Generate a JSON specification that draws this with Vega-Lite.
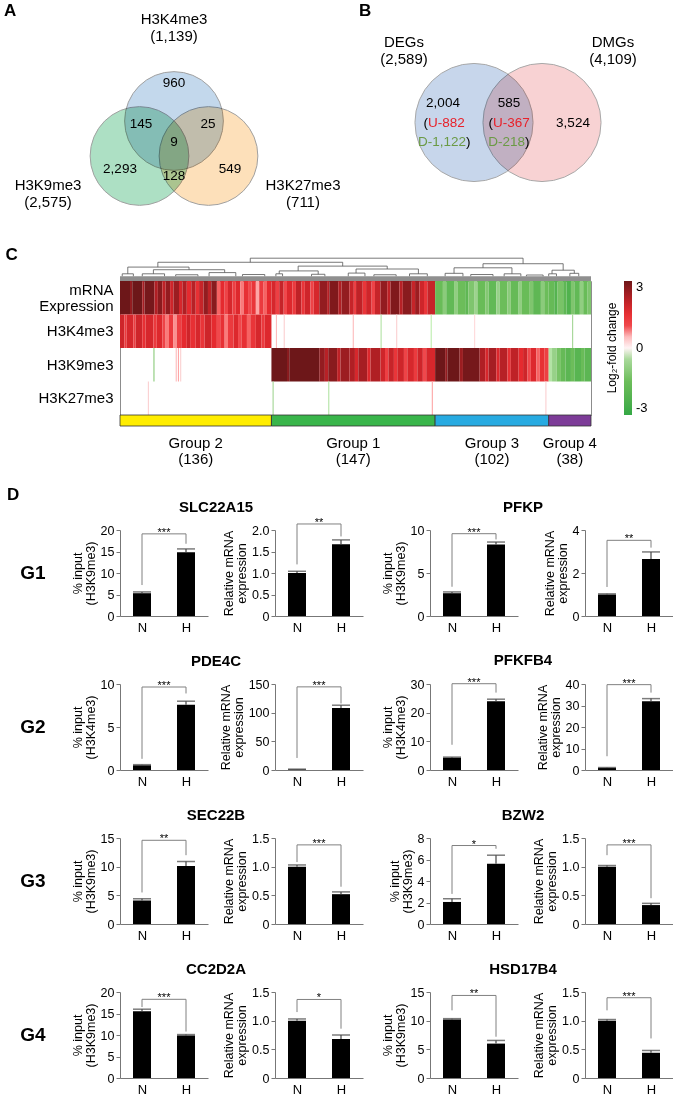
{
"$schema": "https://vega.github.io/schema/vega-lite/v6.json",
"padding": 0,
"background": "white",
"config": {
 "font": "Liberation Sans",
 "view": {"stroke": null},
 "axis": {"grid": false, "domainColor": "#777777", "tickColor": "#777777", "labelColor": "#000000", "titleColor": "#000000", "labelFontSize": 12.5, "titleFontSize": 12.5, "titleFontWeight": "normal", "tickSize": 4, "labelPadding": 2, "titlePadding": 3, "labelOverlap": false},
 "axisQuantitative": {"tickCount": 5},
 "title": {"color": "#000000"}
},
"datasets": {
 "heat": [
  {"t":"m","s":0,"e":9,"v":3.0},{"t":"m","s":9,"e":11,"v":2.6},{"t":"m","s":11,"e":20,"v":3.0},{"t":"m","s":20,"e":22,"v":2.4},{"t":"m","s":22,"e":31,"v":2.9},{"t":"m","s":31,"e":34,"v":2.3},{"t":"m","s":34,"e":38,"v":2.7},{"t":"m","s":38,"e":41,"v":2.1},{"t":"m","s":41,"e":45,"v":2.6},{"t":"m","s":45,"e":48,"v":1.9},{"t":"m","s":48,"e":53,"v":2.5},{"t":"m","s":53,"e":56,"v":1.8},{"t":"m","s":56,"e":60,"v":2.3},{"t":"m","s":60,"e":64,"v":1.6},{"t":"m","s":64,"e":68,"v":2.2},{"t":"m","s":68,"e":71,"v":1.5},{"t":"m","s":71,"e":75,"v":2.0},{"t":"m","s":75,"e":79,"v":2.6},{"t":"m","s":79,"e":82,"v":2.1},{"t":"m","s":82,"e":87,"v":2.7},{"t":"m","s":87,"e":90,"v":0.9},{"t":"m","s":90,"e":94,"v":1.6},{"t":"m","s":94,"e":97,"v":1.1},{"t":"m","s":97,"e":101,"v":1.8},{"t":"m","s":101,"e":104,"v":1.2},{"t":"m","s":104,"e":108,"v":1.7},{"t":"m","s":108,"e":111,"v":0.8},{"t":"m","s":111,"e":115,"v":1.5},{"t":"m","s":115,"e":118,"v":1.0},{"t":"m","s":118,"e":122,"v":1.4},{"t":"m","s":122,"e":125,"v":0.6},{"t":"m","s":125,"e":129,"v":1.3},{"t":"m","s":129,"e":132,"v":0.9},{"t":"m","s":132,"e":136,"v":1.6},
  {"t":"m","s":136,"e":140,"v":1.8},{"t":"m","s":140,"e":143,"v":1.2},{"t":"m","s":143,"e":147,"v":2.0},{"t":"m","s":147,"e":150,"v":1.0},{"t":"m","s":150,"e":155,"v":1.7},{"t":"m","s":155,"e":158,"v":1.3},{"t":"m","s":158,"e":163,"v":2.1},{"t":"m","s":163,"e":166,"v":1.4},{"t":"m","s":166,"e":171,"v":1.9},{"t":"m","s":171,"e":174,"v":1.1},{"t":"m","s":174,"e":179,"v":1.8},{"t":"m","s":179,"e":186,"v":2.6},{"t":"m","s":186,"e":188,"v":2.2},{"t":"m","s":188,"e":196,"v":2.8},{"t":"m","s":196,"e":199,"v":2.3},{"t":"m","s":199,"e":206,"v":2.6},{"t":"m","s":206,"e":210,"v":2.0},{"t":"m","s":210,"e":212,"v":1.2},{"t":"m","s":212,"e":218,"v":2.1},{"t":"m","s":218,"e":221,"v":1.4},{"t":"m","s":221,"e":226,"v":1.9},{"t":"m","s":226,"e":229,"v":1.1},{"t":"m","s":229,"e":234,"v":2.0},{"t":"m","s":234,"e":240,"v":2.6},{"t":"m","s":240,"e":243,"v":2.1},{"t":"m","s":243,"e":251,"v":2.8},{"t":"m","s":251,"e":254,"v":2.2},{"t":"m","s":254,"e":262,"v":2.7},{"t":"m","s":262,"e":265,"v":2.0},{"t":"m","s":265,"e":269,"v":2.5},{"t":"m","s":269,"e":273,"v":1.9},{"t":"m","s":273,"e":276,"v":1.4},{"t":"m","s":276,"e":283,"v":2.0},
  {"t":"m","s":283,"e":290,"v":-1.6},{"t":"m","s":290,"e":293,"v":-1.0},{"t":"m","s":293,"e":300,"v":-1.8},{"t":"m","s":300,"e":303,"v":-0.9},{"t":"m","s":303,"e":310,"v":-1.5},{"t":"m","s":310,"e":313,"v":-1.9},{"t":"m","s":313,"e":318,"v":-1.2},{"t":"m","s":318,"e":321,"v":-0.7},{"t":"m","s":321,"e":328,"v":-1.6},{"t":"m","s":328,"e":331,"v":-1.1},{"t":"m","s":331,"e":338,"v":-1.8},{"t":"m","s":338,"e":341,"v":-0.8},{"t":"m","s":341,"e":348,"v":-1.5},{"t":"m","s":348,"e":351,"v":-1.0},{"t":"m","s":351,"e":358,"v":-1.7},{"t":"m","s":358,"e":361,"v":-0.9},{"t":"m","s":361,"e":368,"v":-1.6},{"t":"m","s":368,"e":371,"v":-1.2},{"t":"m","s":371,"e":378,"v":-1.9},{"t":"m","s":378,"e":381,"v":-1.0},{"t":"m","s":381,"e":385,"v":-1.5},
  {"t":"m","s":385,"e":390,"v":-1.7},{"t":"m","s":390,"e":393,"v":-2.2},{"t":"m","s":393,"e":398,"v":-1.3},{"t":"m","s":398,"e":401,"v":-1.9},{"t":"m","s":401,"e":405,"v":-2.3},{"t":"m","s":405,"e":408,"v":-1.2},{"t":"m","s":408,"e":413,"v":-1.8},{"t":"m","s":413,"e":416,"v":-0.9},{"t":"m","s":416,"e":420,"v":-1.6},{"t":"m","s":420,"e":423,"v":-1.2},
  {"t":"k4","s":0,"e":4,"v":1.9},{"t":"k4","s":4,"e":6,"v":1.3},{"t":"k4","s":6,"e":12,"v":1.8},{"t":"k4","s":12,"e":14,"v":1.2},{"t":"k4","s":14,"e":20,"v":1.9},{"t":"k4","s":20,"e":23,"v":1.5},{"t":"k4","s":23,"e":30,"v":1.8},{"t":"k4","s":30,"e":33,"v":1.3},{"t":"k4","s":33,"e":38,"v":1.7},{"t":"k4","s":38,"e":41,"v":1.1},{"t":"k4","s":41,"e":44,"v":0.8},{"t":"k4","s":44,"e":48,"v":1.3},{"t":"k4","s":48,"e":51,"v":0.7},{"t":"k4","s":51,"e":55,"v":1.2},{"t":"k4","s":55,"e":60,"v":1.6},{"t":"k4","s":60,"e":63,"v":1.9},{"t":"k4","s":63,"e":68,"v":1.5},{"t":"k4","s":68,"e":72,"v":1.8},{"t":"k4","s":72,"e":76,"v":1.4},{"t":"k4","s":76,"e":82,"v":1.9},{"t":"k4","s":82,"e":87,"v":1.6},{"t":"k4","s":87,"e":90,"v":1.0},{"t":"k4","s":90,"e":94,"v":1.5},{"t":"k4","s":94,"e":97,"v":0.8},{"t":"k4","s":97,"e":102,"v":1.3},{"t":"k4","s":102,"e":106,"v":1.7},{"t":"k4","s":106,"e":109,"v":1.0},{"t":"k4","s":109,"e":114,"v":1.5},{"t":"k4","s":114,"e":117,"v":0.9},{"t":"k4","s":117,"e":122,"v":1.4},{"t":"k4","s":122,"e":127,"v":1.8},{"t":"k4","s":127,"e":130,"v":1.3},{"t":"k4","s":130,"e":136,"v":1.7},
  {"t":"k4","s":140,"e":141,"v":0.5},{"t":"k4","s":147,"e":148,"v":0.4},{"t":"k4","s":209,"e":210,"v":0.5},{"t":"k4","s":234,"e":235,"v":-0.4},{"t":"k4","s":248,"e":249,"v":0.4},{"t":"k4","s":279,"e":280,"v":-0.3},{"t":"k4","s":318,"e":319,"v":0.3},{"t":"k4","s":406,"e":407,"v":-0.6},
  {"t":"k9","s":30,"e":31,"v":-1.0},{"t":"k9","s":50,"e":51,"v":0.5},{"t":"k9","s":52,"e":53,"v":0.6},{"t":"k9","s":54,"e":55,"v":0.4},
  {"t":"k9","s":136,"e":150,"v":3.0},{"t":"k9","s":150,"e":152,"v":2.7},{"t":"k9","s":152,"e":179,"v":3.0},{"t":"k9","s":179,"e":184,"v":2.6},{"t":"k9","s":184,"e":187,"v":2.2},{"t":"k9","s":187,"e":195,"v":2.7},{"t":"k9","s":195,"e":198,"v":2.1},{"t":"k9","s":198,"e":206,"v":2.5},{"t":"k9","s":206,"e":211,"v":2.3},{"t":"k9","s":211,"e":214,"v":1.8},{"t":"k9","s":214,"e":222,"v":2.4},{"t":"k9","s":222,"e":225,"v":1.7},{"t":"k9","s":225,"e":234,"v":2.3},{"t":"k9","s":234,"e":238,"v":1.9},{"t":"k9","s":238,"e":241,"v":1.2},{"t":"k9","s":241,"e":246,"v":2.0},{"t":"k9","s":246,"e":249,"v":1.4},{"t":"k9","s":249,"e":255,"v":1.9},{"t":"k9","s":255,"e":258,"v":1.1},{"t":"k9","s":258,"e":264,"v":1.8},{"t":"k9","s":264,"e":267,"v":1.3},{"t":"k9","s":267,"e":272,"v":1.9},{"t":"k9","s":272,"e":275,"v":1.0},{"t":"k9","s":275,"e":283,"v":1.8},
  {"t":"k9","s":283,"e":292,"v":3.0},{"t":"k9","s":292,"e":294,"v":2.6},{"t":"k9","s":294,"e":305,"v":3.0},{"t":"k9","s":305,"e":308,"v":2.5},{"t":"k9","s":308,"e":323,"v":2.9},{"t":"k9","s":323,"e":328,"v":2.3},{"t":"k9","s":328,"e":331,"v":1.8},{"t":"k9","s":331,"e":338,"v":2.4},{"t":"k9","s":338,"e":341,"v":1.7},{"t":"k9","s":341,"e":348,"v":2.2},{"t":"k9","s":348,"e":351,"v":1.5},{"t":"k9","s":351,"e":358,"v":2.1},{"t":"k9","s":358,"e":362,"v":1.6},{"t":"k9","s":362,"e":366,"v":1.9},{"t":"k9","s":366,"e":369,"v":1.0},{"t":"k9","s":369,"e":374,"v":1.7},{"t":"k9","s":374,"e":377,"v":0.9},{"t":"k9","s":377,"e":381,"v":1.5},{"t":"k9","s":381,"e":385,"v":1.2},
  {"t":"k9","s":385,"e":388,"v":-0.4},{"t":"k9","s":388,"e":392,"v":-0.8},{"t":"k9","s":392,"e":396,"v":-1.3},{"t":"k9","s":396,"e":400,"v":-1.7},{"t":"k9","s":400,"e":405,"v":-2.0},{"t":"k9","s":405,"e":408,"v":-1.5},{"t":"k9","s":408,"e":414,"v":-2.1},{"t":"k9","s":414,"e":417,"v":-1.6},{"t":"k9","s":417,"e":423,"v":-2.0},
  {"t":"k27","s":25,"e":26,"v":0.4},{"t":"k27","s":137,"e":138,"v":-0.6},{"t":"k27","s":187,"e":188,"v":-0.4},{"t":"k27","s":280,"e":281,"v":0.6},{"t":"k27","s":382,"e":383,"v":0.4}
 ],
 "dend": [
  {"x":117,"x2":362,"y":0.95,"y2":0.95},{"x":34,"x2":200,"y":0.78,"y2":0.78},{"x":7,"x2":62,"y":0.58,"y2":0.58},{"x":30,"x2":94,"y":0.47,"y2":0.47},{"x":160,"x2":240,"y":0.62,"y2":0.62},{"x":143,"x2":178,"y":0.42,"y2":0.42},{"x":212,"x2":268,"y":0.5,"y2":0.5},{"x":326,"x2":398,"y":0.72,"y2":0.72},{"x":300,"x2":352,"y":0.55,"y2":0.55},{"x":388,"x2":408,"y":0.45,"y2":0.45},
  {"x":2,"x2":12,"y":0.3,"y2":0.3},{"x":20,"x2":40,"y":0.3,"y2":0.3},{"x":80,"x2":104,"y":0.35,"y2":0.35},{"x":140,"x2":146,"y":0.3,"y2":0.3},{"x":172,"x2":184,"y":0.28,"y2":0.28},{"x":205,"x2":220,"y":0.33,"y2":0.33},{"x":260,"x2":276,"y":0.3,"y2":0.3},{"x":292,"x2":308,"y":0.32,"y2":0.32},{"x":345,"x2":360,"y":0.3,"y2":0.3},{"x":385,"x2":392,"y":0.3,"y2":0.3},{"x":404,"x2":412,"y":0.32,"y2":0.32},{"x":50,"x2":70,"y":0.26,"y2":0.26},{"x":110,"x2":130,"y":0.27,"y2":0.27},{"x":228,"x2":248,"y":0.26,"y2":0.26},{"x":315,"x2":335,"y":0.27,"y2":0.27},{"x":365,"x2":380,"y":0.25,"y2":0.25},
  {"x":117,"x2":117,"y":0.78,"y2":0.95},{"x":362,"x2":362,"y":0.72,"y2":0.95},{"x":34,"x2":34,"y":0.58,"y2":0.78},{"x":200,"x2":200,"y":0.62,"y2":0.78},{"x":7,"x2":7,"y":0.3,"y2":0.58},{"x":62,"x2":62,"y":0.47,"y2":0.58},{"x":30,"x2":30,"y":0.3,"y2":0.47},{"x":94,"x2":94,"y":0.35,"y2":0.47},{"x":160,"x2":160,"y":0.42,"y2":0.62},{"x":240,"x2":240,"y":0.5,"y2":0.62},{"x":143,"x2":143,"y":0.3,"y2":0.42},{"x":178,"x2":178,"y":0.28,"y2":0.42},{"x":212,"x2":212,"y":0.33,"y2":0.5},{"x":268,"x2":268,"y":0.3,"y2":0.5},{"x":326,"x2":326,"y":0.55,"y2":0.72},{"x":398,"x2":398,"y":0.45,"y2":0.72},{"x":300,"x2":300,"y":0.32,"y2":0.55},{"x":352,"x2":352,"y":0.3,"y2":0.55},{"x":388,"x2":388,"y":0.3,"y2":0.45},{"x":408,"x2":408,"y":0.32,"y2":0.45},
  {"x":2,"x2":2,"y":0.2,"y2":0.3},{"x":12,"x2":12,"y":0.2,"y2":0.3},{"x":20,"x2":20,"y":0.2,"y2":0.3},{"x":40,"x2":40,"y":0.2,"y2":0.3},{"x":80,"x2":80,"y":0.2,"y2":0.35},{"x":104,"x2":104,"y":0.2,"y2":0.35},{"x":140,"x2":140,"y":0.2,"y2":0.3},{"x":146,"x2":146,"y":0.2,"y2":0.3},{"x":172,"x2":172,"y":0.2,"y2":0.28},{"x":184,"x2":184,"y":0.2,"y2":0.28},{"x":205,"x2":205,"y":0.2,"y2":0.33},{"x":220,"x2":220,"y":0.2,"y2":0.33},{"x":260,"x2":260,"y":0.2,"y2":0.3},{"x":276,"x2":276,"y":0.2,"y2":0.3},{"x":292,"x2":292,"y":0.2,"y2":0.32},{"x":308,"x2":308,"y":0.2,"y2":0.32},{"x":345,"x2":345,"y":0.2,"y2":0.3},{"x":360,"x2":360,"y":0.2,"y2":0.3},{"x":385,"x2":385,"y":0.2,"y2":0.3},{"x":392,"x2":392,"y":0.2,"y2":0.3},{"x":404,"x2":404,"y":0.2,"y2":0.32},{"x":412,"x2":412,"y":0.2,"y2":0.32},{"x":50,"x2":50,"y":0.2,"y2":0.26},{"x":70,"x2":70,"y":0.2,"y2":0.26},{"x":110,"x2":110,"y":0.2,"y2":0.27},{"x":130,"x2":130,"y":0.2,"y2":0.27},{"x":228,"x2":228,"y":0.2,"y2":0.26},{"x":248,"x2":248,"y":0.2,"y2":0.26},{"x":315,"x2":315,"y":0.2,"y2":0.27},{"x":335,"x2":335,"y":0.2,"y2":0.27},{"x":365,"x2":365,"y":0.2,"y2":0.25},{"x":380,"x2":380,"y":0.2,"y2":0.25}
 ],
 "groups": [
  {"g":"Group 2","s":0,"e":136,"mid":68,"lab":"Group 2\n(136)"},
  {"g":"Group 1","s":136,"e":283,"mid":209.5,"lab":"Group 1\n(147)"},
  {"g":"Group 3","s":283,"e":385,"mid":334,"lab":"Group 3\n(102)"},
  {"g":"Group 4","s":385,"e":423,"mid":404,"lab":"Group 4\n(38)"}
 ],
 "bars": [
  {"p":"slc_c","i":0,"v":5.3,"hi":5.6,"lo":7.2,"top":19.1,"s":"***"},{"p":"slc_c","i":1,"v":14.8,"hi":15.6,"lo":16.8,"top":19.1,"s":"***"},
  {"p":"slc_m","i":0,"v":1.0,"hi":1.04,"lo":1.2,"top":2.14,"s":"**"},{"p":"slc_m","i":1,"v":1.67,"hi":1.77,"lo":1.85,"top":2.14,"s":"**"},
  {"p":"pfkp_c","i":0,"v":2.65,"hi":2.8,"lo":3.4,"top":9.57,"s":"***"},{"p":"pfkp_c","i":1,"v":8.3,"hi":8.6,"lo":8.9,"top":9.57,"s":"***"},
  {"p":"pfkp_m","i":0,"v":1.0,"hi":1.03,"lo":1.35,"top":3.52,"s":"**"},{"p":"pfkp_m","i":1,"v":2.65,"hi":2.98,"lo":3.18,"top":3.52,"s":"**"},
  {"p":"pde_c","i":0,"v":0.55,"hi":0.62,"lo":1.3,"top":9.65,"s":"***"},{"p":"pde_c","i":1,"v":7.6,"hi":8.0,"lo":8.9,"top":9.65,"s":"***"},
  {"p":"pde_m","i":0,"v":1.0,"hi":1.5,"lo":21,"top":145,"s":"***"},{"p":"pde_m","i":1,"v":108,"hi":113,"lo":116,"top":145,"s":"***"},
  {"p":"pfkfb_c","i":0,"v":4.3,"hi":4.5,"lo":8.8,"top":30.1,"s":"***"},{"p":"pfkfb_c","i":1,"v":24,"hi":24.7,"lo":27,"top":30.1,"s":"***"},
  {"p":"pfkfb_m","i":0,"v":1.0,"hi":1.15,"lo":6.4,"top":39.7,"s":"***"},{"p":"pfkfb_m","i":1,"v":32,"hi":33.2,"lo":36,"top":39.7,"s":"***"},
  {"p":"sec_c","i":0,"v":4.1,"hi":4.4,"lo":5.5,"top":14.6,"s":"**"},{"p":"sec_c","i":1,"v":10.1,"hi":10.9,"lo":12,"top":14.6,"s":"**"},
  {"p":"sec_m","i":0,"v":1.0,"hi":1.03,"lo":1.08,"top":1.38,"s":"***"},{"p":"sec_m","i":1,"v":0.52,"hi":0.56,"lo":0.65,"top":1.38,"s":"***"},
  {"p":"bzw_c","i":0,"v":2.05,"hi":2.35,"lo":2.8,"top":7.3,"s":"*"},{"p":"bzw_c","i":1,"v":5.6,"hi":6.4,"lo":7.0,"top":7.3,"s":"*"},
  {"p":"bzw_m","i":0,"v":1.0,"hi":1.02,"lo":1.2,"top":1.38,"s":"***"},{"p":"bzw_m","i":1,"v":0.33,"hi":0.36,"lo":0.45,"top":1.38,"s":"***"},
  {"p":"cc_c","i":0,"v":15.5,"hi":16.0,"lo":16.5,"top":18.3,"s":"***"},{"p":"cc_c","i":1,"v":9.9,"hi":10.1,"lo":10.8,"top":18.3,"s":"***"},
  {"p":"cc_m","i":0,"v":1.0,"hi":1.03,"lo":1.15,"top":1.37,"s":"*"},{"p":"cc_m","i":1,"v":0.68,"hi":0.75,"lo":0.86,"top":1.37,"s":"*"},
  {"p":"hsd_c","i":0,"v":10.2,"hi":10.35,"lo":11.8,"top":14.4,"s":"**"},{"p":"hsd_c","i":1,"v":6.0,"hi":6.55,"lo":7.2,"top":14.4,"s":"**"},
  {"p":"hsd_m","i":0,"v":1.0,"hi":1.02,"lo":1.18,"top":1.4,"s":"***"},{"p":"hsd_m","i":1,"v":0.44,"hi":0.48,"lo":0.69,"top":1.4,"s":"***"}
 ]
},
"concat": [
 {
  "hconcat": [
   {
    "width": 222, "height": 228,
    "data": {"values": [
     {"x":3,"y":11,"t":"A","r":"letter"},
     {"x":173,"y":19,"t":"H3K4me3","r":"title"},{"x":173,"y":36,"t":"(1,139)","r":"title"},
     {"x":47,"y":185,"t":"H3K9me3","r":"title"},{"x":47,"y":202,"t":"(2,575)","r":"title"},
     {"x":302,"y":185,"t":"H3K27me3","r":"title"},{"x":302,"y":202,"t":"(711)","r":"title"},
     {"x":173,"y":83,"t":"960","r":"num"},{"x":140,"y":124,"t":"145","r":"num"},{"x":207,"y":124,"t":"25","r":"num"},{"x":173,"y":142,"t":"9","r":"num"},{"x":119,"y":169,"t":"2,293","r":"num"},{"x":173,"y":176,"t":"128","r":"num"},{"x":229,"y":169,"t":"549","r":"num"}
    ]},
    "layer": [
     {"data": {"values": [{"k":"k4","x":173,"y":121},{"k":"k9","x":138.5,"y":156},{"k":"k27","x":207.5,"y":156}]},
      "mark": {"type": "point", "shape": "circle", "filled": true, "size": 9750, "opacity": 1, "stroke": "#a0a0a0", "strokeWidth": 1, "blend": "multiply"},
      "encoding": {
       "x": {"field": "x", "type": "quantitative", "scale": {"domain": [119, 341], "nice": false, "zero": false}, "axis": null},
       "y": {"field": "y", "type": "quantitative", "scale": {"domain": [0, 228], "reverse": true, "nice": false, "zero": false}, "axis": null},
       "fill": {"condition": [{"test": "datum.k == 'k4'", "value": "#c3d8ec"}, {"test": "datum.k == 'k9'", "value": "#ade0c4"}], "value": "#fde0ba"}
      }},
     {"transform": [{"filter": "datum.r == 'letter'"}], "mark": {"type": "text", "align": "left", "baseline": "middle", "fontSize": 17, "fontWeight": "bold"},
      "encoding": {"x": {"field": "x", "type": "quantitative"}, "y": {"field": "y", "type": "quantitative"}, "text": {"field": "t"}}},
     {"transform": [{"filter": "datum.r == 'title'"}], "mark": {"type": "text", "align": "center", "baseline": "middle", "fontSize": 15},
      "encoding": {"x": {"field": "x", "type": "quantitative"}, "y": {"field": "y", "type": "quantitative"}, "text": {"field": "t"}}},
     {"transform": [{"filter": "datum.r == 'num'"}], "mark": {"type": "text", "align": "center", "baseline": "middle", "fontSize": 13.5},
      "encoding": {"x": {"field": "x", "type": "quantitative"}, "y": {"field": "y", "type": "quantitative"}, "text": {"field": "t"}}}
    ]
   },
   {
    "width": 332, "height": 228,
    "data": {"values": [
     {"x":17,"y":11,"t":"B","r":"letter"},
     {"x":62,"y":42,"t":"DEGs","r":"title"},{"x":62,"y":59,"t":"(2,589)","r":"title"},
     {"x":271,"y":42,"t":"DMGs","r":"title"},{"x":271,"y":59,"t":"(4,109)","r":"title"},
     {"x":101,"y":103,"t":"2,004","r":"num"},{"x":167,"y":103,"t":"585","r":"num"},{"x":231,"y":123,"t":"3,524","r":"num"},
     {"x":86,"y":123,"t":"(","r":"openR"},{"x":151,"y":123,"t":"(","r":"openR"},
     {"x":86,"y":123,"t":"U-882","r":"red"},{"x":151,"y":123,"t":"U-367","r":"red"},
     {"x":124,"y":142,"t":"D-1,122","r":"green"},{"x":183,"y":142,"t":"D-218","r":"green"},
     {"x":124,"y":142,"t":")","r":"closeL"},{"x":183,"y":142,"t":")","r":"closeL"}
    ]},
    "layer": [
     {"data": {"values": [{"k":"deg","x":132,"y":122.5},{"k":"dmg","x":200,"y":122.5}]},
      "mark": {"type": "point", "shape": "circle", "filled": true, "size": 13950, "opacity": 1, "stroke": "#a8a8a8", "strokeWidth": 1, "blend": "multiply"},
      "encoding": {
       "x": {"field": "x", "type": "quantitative", "scale": {"domain": [0, 332], "nice": false, "zero": false}, "axis": null},
       "y": {"field": "y", "type": "quantitative", "scale": {"domain": [0, 228], "reverse": true, "nice": false, "zero": false}, "axis": null},
       "fill": {"condition": [{"test": "datum.k == 'deg'", "value": "#c7d6eb"}], "value": "#f8d2d3"}
      }},
     {"transform": [{"filter": "datum.r == 'letter'"}], "mark": {"type": "text", "align": "left", "baseline": "middle", "fontSize": 17, "fontWeight": "bold"},
      "encoding": {"x": {"field": "x", "type": "quantitative"}, "y": {"field": "y", "type": "quantitative"}, "text": {"field": "t"}}},
     {"transform": [{"filter": "datum.r == 'title'"}], "mark": {"type": "text", "align": "center", "baseline": "middle", "fontSize": 15},
      "encoding": {"x": {"field": "x", "type": "quantitative"}, "y": {"field": "y", "type": "quantitative"}, "text": {"field": "t"}}},
     {"transform": [{"filter": "datum.r == 'num'"}], "mark": {"type": "text", "align": "center", "baseline": "middle", "fontSize": 13.5},
      "encoding": {"x": {"field": "x", "type": "quantitative"}, "y": {"field": "y", "type": "quantitative"}, "text": {"field": "t"}}},
     {"transform": [{"filter": "datum.r == 'openR'"}], "mark": {"type": "text", "align": "right", "baseline": "middle", "fontSize": 13.5},
      "encoding": {"x": {"field": "x", "type": "quantitative"}, "y": {"field": "y", "type": "quantitative"}, "text": {"field": "t"}}},
     {"transform": [{"filter": "datum.r == 'red'"}], "mark": {"type": "text", "align": "left", "baseline": "middle", "fontSize": 13.5, "color": "#e8212a"},
      "encoding": {"x": {"field": "x", "type": "quantitative"}, "y": {"field": "y", "type": "quantitative"}, "text": {"field": "t"}}},
     {"transform": [{"filter": "datum.r == 'green'"}], "mark": {"type": "text", "align": "right", "baseline": "middle", "fontSize": 13.5, "color": "#6b9a45"},
      "encoding": {"x": {"field": "x", "type": "quantitative"}, "y": {"field": "y", "type": "quantitative"}, "text": {"field": "t"}}},
     {"transform": [{"filter": "datum.r == 'closeL'"}], "mark": {"type": "text", "align": "left", "baseline": "middle", "fontSize": 13.5},
      "encoding": {"x": {"field": "x", "type": "quantitative"}, "y": {"field": "y", "type": "quantitative"}, "text": {"field": "t"}}}
    ]
   }
  ],
  "spacing": 0
 },
 {
  "vconcat": [
   {
    "width": 471, "height": 24,
    "data": {"name": "dend"},
    "layer": [
     {"data": {"values": [{"x":0,"x2":423,"y":0,"y2":0.2}]}, "mark": {"type": "rect", "color": "#8f8f8f"},
      "encoding": {"x": {"field": "x", "type": "quantitative", "scale": {"domain": [0, 423], "nice": false, "zero": false}, "axis": null}, "x2": {"field": "x2"}, "y": {"field": "y", "type": "quantitative", "scale": {"domain": [0, 1], "nice": false}, "axis": null}, "y2": {"field": "y2"}}},
     {"mark": {"type": "rule", "color": "#555555", "strokeWidth": 0.8},
      "encoding": {"x": {"field": "x", "type": "quantitative"}, "x2": {"field": "x2"}, "y": {"field": "y", "type": "quantitative"}, "y2": {"field": "y2"}}}
    ]
   },
   {
    "width": 471, "height": 134,
    "view": {"stroke": "#8c8c8c", "strokeWidth": 1},
    "data": {"name": "heat"},
    "mark": {"type": "rect"},
    "encoding": {
     "x": {"field": "s", "type": "quantitative", "scale": {"domain": [0, 423], "nice": false, "zero": false}, "axis": null},
     "x2": {"field": "e"},
     "y": {"field": "t", "type": "nominal", "scale": {"domain": ["m", "k4", "k9", "k27"], "paddingInner": 0, "paddingOuter": 0},
      "axis": {"title": null, "ticks": false, "domain": false, "labelPadding": 7, "labelFontSize": 15, "labelLineHeight": 16, "minExtent": 119, "maxExtent": 119,
       "labelOffset": {"condition": {"test": "datum.value == 'm'", "value": -8}, "value": 0},
       "labelExpr": "datum.value == 'm' ? ['mRNA', 'Expression'] : datum.value == 'k4' ? 'H3K4me3' : datum.value == 'k9' ? 'H3K9me3' : 'H3K27me3'"}},
     "color": {"field": "v", "type": "quantitative",
      "scale": {"domain": [-3, -1.5, -0.5, 0, 0.4, 1, 1.6, 2.3, 3], "range": ["#34a845", "#6cbd5a", "#a9d99b", "#ffffff", "#fbd0d1", "#f0484c", "#e52a2f", "#b01f24", "#6d1719"]},
      "legend": {"title": "Log₂-fold change", "orient": "right", "direction": "vertical", "offset": 15, "gradientLength": 134, "gradientThickness": 8, "values": [-3, 0, 3],
       "labelExpr": "datum.value < 0 ? '-3' : datum.value > 0 ? '3' : '0'", "labelFontSize": 13, "titleFontSize": 12, "titleFontWeight": "normal", "titleOrient": "left", "titleAngle": 270, "titleAnchor": "middle", "titlePadding": 4, "labelOffset": 4}}
    }
   },
   {
    "width": 471, "height": 11,
    "data": {"name": "groups"},
    "mark": {"type": "rect", "stroke": "#333333", "strokeWidth": 0.8},
    "encoding": {
     "x": {"field": "s", "type": "quantitative", "scale": {"domain": [0, 423], "nice": false, "zero": false}, "axis": null},
     "x2": {"field": "e"},
     "fill": {"condition": [{"test": "datum.g == 'Group 2'", "value": "#ffed00"}, {"test": "datum.g == 'Group 1'", "value": "#39b54a"}, {"test": "datum.g == 'Group 3'", "value": "#27aae1"}], "value": "#7d3c98"}
    }
   },
   {
    "width": 471, "height": 40,
    "data": {"name": "groups"},
    "mark": {"type": "text", "fontSize": 15, "lineBreak": "\n", "lineHeight": 16, "baseline": "middle", "dy": -3},
    "encoding": {
     "x": {"field": "mid", "type": "quantitative", "scale": {"domain": [0, 423], "nice": false, "zero": false}, "axis": null},
     "text": {"field": "lab"}
    }
   }
  ],
  "spacing": 0,
  "bounds": "flush",
  "title": {"text": "C", "anchor": "start", "frame": "bounds", "offset": -20, "fontSize": 17, "fontWeight": "bold", "baseline": "alphabetic", "dx": 5},
  "resolve": {"legend": {"color": "independent"}, "scale": {"color": "independent"}}
 },
 {
  "concat": [
   {"width": 88, "height": 86, "title": {"text": "SLC22A15", "anchor": "middle", "frame": "group", "offset": -3, "fontSize": 15, "fontWeight": "bold", "baseline": "alphabetic", "dx": 52},
    "data": {"name": "bars"}, "transform": [{"filter": "datum.p == 'slc_c'"}],
    "layer": [
     {"mark": {"type": "bar", "size": 18, "color": "#000000", "orient": "vertical"}, "encoding": {"x": {"field": "i", "type": "quantitative", "scale": {"domain": [-0.5, 1.5], "nice": false, "zero": false, "padding": 0}, "axis": {"values": [0, 1], "labelExpr": "datum.value == 0 ? 'N' : 'H'", "ticks": false, "title": null, "labelFontSize": 13, "labelPadding": 5}}, "y": {"field": "v", "type": "quantitative", "scale": {"domain": [0, 20], "nice": false, "padding": 0}, "axis": {"values": [0, 5, 10, 15, 20], "title": ["% input", "(H3K9me3)"], "titleLineHeight": 13}}}},
     {"mark": {"type": "rule", "color": "#444444", "strokeWidth": 1.2}, "encoding": {"x": {"field": "i", "type": "quantitative"}, "y": {"field": "v", "type": "quantitative"}, "y2": {"field": "hi"}}},
     {"mark": {"type": "tick", "orient": "horizontal", "size": 18, "thickness": 1.5, "color": "#444444"}, "encoding": {"x": {"field": "i", "type": "quantitative"}, "y": {"field": "hi", "type": "quantitative"}}},
     {"mark": {"type": "rule", "color": "#808080", "strokeWidth": 1}, "encoding": {"x": {"field": "i", "type": "quantitative"}, "y": {"field": "lo", "type": "quantitative"}, "y2": {"field": "top"}}},
     {"transform": [{"filter": "datum.i == 0"}], "mark": {"type": "rule", "color": "#808080", "strokeWidth": 1}, "encoding": {"x": {"datum": 0, "type": "quantitative"}, "x2": {"datum": 1}, "y": {"field": "top", "type": "quantitative"}}},
     {"transform": [{"filter": "datum.i == 0"}], "mark": {"type": "text", "fontSize": 11, "baseline": "alphabetic", "dy": 2}, "encoding": {"x": {"datum": 0.5, "type": "quantitative"}, "y": {"field": "top", "type": "quantitative"}, "text": {"field": "s"}}},
     {"transform": [{"filter": "datum.i == 0"}], "mark": {"type": "text", "fontSize": 19, "fontWeight": "bold", "baseline": "middle", "align": "center"}, "encoding": {"x": {"datum": -2.48, "type": "quantitative"}, "y": {"datum": 10, "type": "quantitative"}, "text": {"value": "G1"}}}
    ]},
   {"width": 88, "height": 86,
    "data": {"name": "bars"}, "transform": [{"filter": "datum.p == 'slc_m'"}],
    "layer": [
     {"mark": {"type": "bar", "size": 18, "color": "#000000", "orient": "vertical"}, "encoding": {"x": {"field": "i", "type": "quantitative", "scale": {"domain": [-0.5, 1.5], "nice": false, "zero": false, "padding": 0}, "axis": {"values": [0, 1], "labelExpr": "datum.value == 0 ? 'N' : 'H'", "ticks": false, "title": null, "labelFontSize": 13, "labelPadding": 5}}, "y": {"field": "v", "type": "quantitative", "scale": {"domain": [0, 2], "nice": false, "padding": 0}, "axis": {"values": [0, 0.5, 1, 1.5, 2], "labelExpr": "datum.value == 0 ? '0' : format(datum.value, '.1f')", "title": ["Relative mRNA", "expression"], "titleLineHeight": 13}}}},
     {"mark": {"type": "rule", "color": "#444444", "strokeWidth": 1.2}, "encoding": {"x": {"field": "i", "type": "quantitative"}, "y": {"field": "v", "type": "quantitative"}, "y2": {"field": "hi"}}},
     {"mark": {"type": "tick", "orient": "horizontal", "size": 18, "thickness": 1.5, "color": "#444444"}, "encoding": {"x": {"field": "i", "type": "quantitative"}, "y": {"field": "hi", "type": "quantitative"}}},
     {"mark": {"type": "rule", "color": "#808080", "strokeWidth": 1}, "encoding": {"x": {"field": "i", "type": "quantitative"}, "y": {"field": "lo", "type": "quantitative"}, "y2": {"field": "top"}}},
     {"transform": [{"filter": "datum.i == 0"}], "mark": {"type": "rule", "color": "#808080", "strokeWidth": 1}, "encoding": {"x": {"datum": 0, "type": "quantitative"}, "x2": {"datum": 1}, "y": {"field": "top", "type": "quantitative"}}},
     {"transform": [{"filter": "datum.i == 0"}], "mark": {"type": "text", "fontSize": 11, "baseline": "alphabetic", "dy": 2}, "encoding": {"x": {"datum": 0.5, "type": "quantitative"}, "y": {"field": "top", "type": "quantitative"}, "text": {"field": "s"}}},
     {"transform": [{"filter": "datum.i == 0"}], "mark": {"type": "text", "fontSize": 17, "fontWeight": "bold", "baseline": "alphabetic", "align": "left"}, "encoding": {"x": {"datum": -6.59, "type": "quantitative"}, "y": {"datum": 2.7, "type": "quantitative"}, "text": {"value": "D"}}}
    ]},
   {"width": 88, "height": 86, "title": {"text": "PFKP", "anchor": "middle", "frame": "group", "offset": -3, "fontSize": 15, "fontWeight": "bold", "baseline": "alphabetic", "dx": 49},
    "data": {"name": "bars"}, "transform": [{"filter": "datum.p == 'pfkp_c'"}],
    "layer": [
     {"mark": {"type": "bar", "size": 18, "color": "#000000", "orient": "vertical"}, "encoding": {"x": {"field": "i", "type": "quantitative", "scale": {"domain": [-0.5, 1.5], "nice": false, "zero": false, "padding": 0}, "axis": {"values": [0, 1], "labelExpr": "datum.value == 0 ? 'N' : 'H'", "ticks": false, "title": null, "labelFontSize": 13, "labelPadding": 5}}, "y": {"field": "v", "type": "quantitative", "scale": {"domain": [0, 10], "nice": false, "padding": 0}, "axis": {"values": [0, 5, 10], "title": ["% input", "(H3K9me3)"], "titleLineHeight": 13}}}},
     {"mark": {"type": "rule", "color": "#444444", "strokeWidth": 1.2}, "encoding": {"x": {"field": "i", "type": "quantitative"}, "y": {"field": "v", "type": "quantitative"}, "y2": {"field": "hi"}}},
     {"mark": {"type": "tick", "orient": "horizontal", "size": 18, "thickness": 1.5, "color": "#444444"}, "encoding": {"x": {"field": "i", "type": "quantitative"}, "y": {"field": "hi", "type": "quantitative"}}},
     {"mark": {"type": "rule", "color": "#808080", "strokeWidth": 1}, "encoding": {"x": {"field": "i", "type": "quantitative"}, "y": {"field": "lo", "type": "quantitative"}, "y2": {"field": "top"}}},
     {"transform": [{"filter": "datum.i == 0"}], "mark": {"type": "rule", "color": "#808080", "strokeWidth": 1}, "encoding": {"x": {"datum": 0, "type": "quantitative"}, "x2": {"datum": 1}, "y": {"field": "top", "type": "quantitative"}}},
     {"transform": [{"filter": "datum.i == 0"}], "mark": {"type": "text", "fontSize": 11, "baseline": "alphabetic", "dy": 2}, "encoding": {"x": {"datum": 0.5, "type": "quantitative"}, "y": {"field": "top", "type": "quantitative"}, "text": {"field": "s"}}}
    ]},
   {"width": 88, "height": 86,
    "data": {"name": "bars"}, "transform": [{"filter": "datum.p == 'pfkp_m'"}],
    "layer": [
     {"mark": {"type": "bar", "size": 18, "color": "#000000", "orient": "vertical"}, "encoding": {"x": {"field": "i", "type": "quantitative", "scale": {"domain": [-0.5, 1.5], "nice": false, "zero": false, "padding": 0}, "axis": {"values": [0, 1], "labelExpr": "datum.value == 0 ? 'N' : 'H'", "ticks": false, "title": null, "labelFontSize": 13, "labelPadding": 5}}, "y": {"field": "v", "type": "quantitative", "scale": {"domain": [0, 4], "nice": false, "padding": 0}, "axis": {"values": [0, 2, 4], "title": ["Relative mRNA", "expression"], "titleLineHeight": 13}}}},
     {"mark": {"type": "rule", "color": "#444444", "strokeWidth": 1.2}, "encoding": {"x": {"field": "i", "type": "quantitative"}, "y": {"field": "v", "type": "quantitative"}, "y2": {"field": "hi"}}},
     {"mark": {"type": "tick", "orient": "horizontal", "size": 18, "thickness": 1.5, "color": "#444444"}, "encoding": {"x": {"field": "i", "type": "quantitative"}, "y": {"field": "hi", "type": "quantitative"}}},
     {"mark": {"type": "rule", "color": "#808080", "strokeWidth": 1}, "encoding": {"x": {"field": "i", "type": "quantitative"}, "y": {"field": "lo", "type": "quantitative"}, "y2": {"field": "top"}}},
     {"transform": [{"filter": "datum.i == 0"}], "mark": {"type": "rule", "color": "#808080", "strokeWidth": 1}, "encoding": {"x": {"datum": 0, "type": "quantitative"}, "x2": {"datum": 1}, "y": {"field": "top", "type": "quantitative"}}},
     {"transform": [{"filter": "datum.i == 0"}], "mark": {"type": "text", "fontSize": 11, "baseline": "alphabetic", "dy": 2}, "encoding": {"x": {"datum": 0.5, "type": "quantitative"}, "y": {"field": "top", "type": "quantitative"}, "text": {"field": "s"}}}
    ]},
   {"width": 88, "height": 86, "title": {"text": "PDE4C", "anchor": "middle", "frame": "group", "offset": -3, "fontSize": 15, "fontWeight": "bold", "baseline": "alphabetic", "dx": 52},
    "data": {"name": "bars"}, "transform": [{"filter": "datum.p == 'pde_c'"}],
    "layer": [
     {"mark": {"type": "bar", "size": 18, "color": "#000000", "orient": "vertical"}, "encoding": {"x": {"field": "i", "type": "quantitative", "scale": {"domain": [-0.5, 1.5], "nice": false, "zero": false, "padding": 0}, "axis": {"values": [0, 1], "labelExpr": "datum.value == 0 ? 'N' : 'H'", "ticks": false, "title": null, "labelFontSize": 13, "labelPadding": 5}}, "y": {"field": "v", "type": "quantitative", "scale": {"domain": [0, 10], "nice": false, "padding": 0}, "axis": {"values": [0, 5, 10], "title": ["% input", "(H3K4me3)"], "titleLineHeight": 13}}}},
     {"mark": {"type": "rule", "color": "#444444", "strokeWidth": 1.2}, "encoding": {"x": {"field": "i", "type": "quantitative"}, "y": {"field": "v", "type": "quantitative"}, "y2": {"field": "hi"}}},
     {"mark": {"type": "tick", "orient": "horizontal", "size": 18, "thickness": 1.5, "color": "#444444"}, "encoding": {"x": {"field": "i", "type": "quantitative"}, "y": {"field": "hi", "type": "quantitative"}}},
     {"mark": {"type": "rule", "color": "#808080", "strokeWidth": 1}, "encoding": {"x": {"field": "i", "type": "quantitative"}, "y": {"field": "lo", "type": "quantitative"}, "y2": {"field": "top"}}},
     {"transform": [{"filter": "datum.i == 0"}], "mark": {"type": "rule", "color": "#808080", "strokeWidth": 1}, "encoding": {"x": {"datum": 0, "type": "quantitative"}, "x2": {"datum": 1}, "y": {"field": "top", "type": "quantitative"}}},
     {"transform": [{"filter": "datum.i == 0"}], "mark": {"type": "text", "fontSize": 11, "baseline": "alphabetic", "dy": 2}, "encoding": {"x": {"datum": 0.5, "type": "quantitative"}, "y": {"field": "top", "type": "quantitative"}, "text": {"field": "s"}}},
     {"transform": [{"filter": "datum.i == 0"}], "mark": {"type": "text", "fontSize": 19, "fontWeight": "bold", "baseline": "middle", "align": "center"}, "encoding": {"x": {"datum": -2.48, "type": "quantitative"}, "y": {"datum": 5, "type": "quantitative"}, "text": {"value": "G2"}}}
    ]},
   {"width": 88, "height": 86,
    "data": {"name": "bars"}, "transform": [{"filter": "datum.p == 'pde_m'"}],
    "layer": [
     {"mark": {"type": "bar", "size": 18, "color": "#000000", "orient": "vertical"}, "encoding": {"x": {"field": "i", "type": "quantitative", "scale": {"domain": [-0.5, 1.5], "nice": false, "zero": false, "padding": 0}, "axis": {"values": [0, 1], "labelExpr": "datum.value == 0 ? 'N' : 'H'", "ticks": false, "title": null, "labelFontSize": 13, "labelPadding": 5}}, "y": {"field": "v", "type": "quantitative", "scale": {"domain": [0, 150], "nice": false, "padding": 0}, "axis": {"values": [0, 50, 100, 150], "title": ["Relative mRNA", "expression"], "titleLineHeight": 13}}}},
     {"mark": {"type": "rule", "color": "#444444", "strokeWidth": 1.2}, "encoding": {"x": {"field": "i", "type": "quantitative"}, "y": {"field": "v", "type": "quantitative"}, "y2": {"field": "hi"}}},
     {"mark": {"type": "tick", "orient": "horizontal", "size": 18, "thickness": 1.5, "color": "#444444"}, "encoding": {"x": {"field": "i", "type": "quantitative"}, "y": {"field": "hi", "type": "quantitative"}}},
     {"mark": {"type": "rule", "color": "#808080", "strokeWidth": 1}, "encoding": {"x": {"field": "i", "type": "quantitative"}, "y": {"field": "lo", "type": "quantitative"}, "y2": {"field": "top"}}},
     {"transform": [{"filter": "datum.i == 0"}], "mark": {"type": "rule", "color": "#808080", "strokeWidth": 1}, "encoding": {"x": {"datum": 0, "type": "quantitative"}, "x2": {"datum": 1}, "y": {"field": "top", "type": "quantitative"}}},
     {"transform": [{"filter": "datum.i == 0"}], "mark": {"type": "text", "fontSize": 11, "baseline": "alphabetic", "dy": 2}, "encoding": {"x": {"datum": 0.5, "type": "quantitative"}, "y": {"field": "top", "type": "quantitative"}, "text": {"field": "s"}}}
    ]},
   {"width": 88, "height": 86, "title": {"text": "PFKFB4", "anchor": "middle", "frame": "group", "offset": -3, "fontSize": 15, "fontWeight": "bold", "baseline": "alphabetic", "dx": 49},
    "data": {"name": "bars"}, "transform": [{"filter": "datum.p == 'pfkfb_c'"}],
    "layer": [
     {"mark": {"type": "bar", "size": 18, "color": "#000000", "orient": "vertical"}, "encoding": {"x": {"field": "i", "type": "quantitative", "scale": {"domain": [-0.5, 1.5], "nice": false, "zero": false, "padding": 0}, "axis": {"values": [0, 1], "labelExpr": "datum.value == 0 ? 'N' : 'H'", "ticks": false, "title": null, "labelFontSize": 13, "labelPadding": 5}}, "y": {"field": "v", "type": "quantitative", "scale": {"domain": [0, 30], "nice": false, "padding": 0}, "axis": {"values": [0, 10, 20, 30], "title": ["% input", "(H3K4me3)"], "titleLineHeight": 13}}}},
     {"mark": {"type": "rule", "color": "#444444", "strokeWidth": 1.2}, "encoding": {"x": {"field": "i", "type": "quantitative"}, "y": {"field": "v", "type": "quantitative"}, "y2": {"field": "hi"}}},
     {"mark": {"type": "tick", "orient": "horizontal", "size": 18, "thickness": 1.5, "color": "#444444"}, "encoding": {"x": {"field": "i", "type": "quantitative"}, "y": {"field": "hi", "type": "quantitative"}}},
     {"mark": {"type": "rule", "color": "#808080", "strokeWidth": 1}, "encoding": {"x": {"field": "i", "type": "quantitative"}, "y": {"field": "lo", "type": "quantitative"}, "y2": {"field": "top"}}},
     {"transform": [{"filter": "datum.i == 0"}], "mark": {"type": "rule", "color": "#808080", "strokeWidth": 1}, "encoding": {"x": {"datum": 0, "type": "quantitative"}, "x2": {"datum": 1}, "y": {"field": "top", "type": "quantitative"}}},
     {"transform": [{"filter": "datum.i == 0"}], "mark": {"type": "text", "fontSize": 11, "baseline": "alphabetic", "dy": 2}, "encoding": {"x": {"datum": 0.5, "type": "quantitative"}, "y": {"field": "top", "type": "quantitative"}, "text": {"field": "s"}}}
    ]},
   {"width": 88, "height": 86,
    "data": {"name": "bars"}, "transform": [{"filter": "datum.p == 'pfkfb_m'"}],
    "layer": [
     {"mark": {"type": "bar", "size": 18, "color": "#000000", "orient": "vertical"}, "encoding": {"x": {"field": "i", "type": "quantitative", "scale": {"domain": [-0.5, 1.5], "nice": false, "zero": false, "padding": 0}, "axis": {"values": [0, 1], "labelExpr": "datum.value == 0 ? 'N' : 'H'", "ticks": false, "title": null, "labelFontSize": 13, "labelPadding": 5}}, "y": {"field": "v", "type": "quantitative", "scale": {"domain": [0, 40], "nice": false, "padding": 0}, "axis": {"values": [0, 10, 20, 30, 40], "title": ["Relative mRNA", "expression"], "titleLineHeight": 13}}}},
     {"mark": {"type": "rule", "color": "#444444", "strokeWidth": 1.2}, "encoding": {"x": {"field": "i", "type": "quantitative"}, "y": {"field": "v", "type": "quantitative"}, "y2": {"field": "hi"}}},
     {"mark": {"type": "tick", "orient": "horizontal", "size": 18, "thickness": 1.5, "color": "#444444"}, "encoding": {"x": {"field": "i", "type": "quantitative"}, "y": {"field": "hi", "type": "quantitative"}}},
     {"mark": {"type": "rule", "color": "#808080", "strokeWidth": 1}, "encoding": {"x": {"field": "i", "type": "quantitative"}, "y": {"field": "lo", "type": "quantitative"}, "y2": {"field": "top"}}},
     {"transform": [{"filter": "datum.i == 0"}], "mark": {"type": "rule", "color": "#808080", "strokeWidth": 1}, "encoding": {"x": {"datum": 0, "type": "quantitative"}, "x2": {"datum": 1}, "y": {"field": "top", "type": "quantitative"}}},
     {"transform": [{"filter": "datum.i == 0"}], "mark": {"type": "text", "fontSize": 11, "baseline": "alphabetic", "dy": 2}, "encoding": {"x": {"datum": 0.5, "type": "quantitative"}, "y": {"field": "top", "type": "quantitative"}, "text": {"field": "s"}}}
    ]},
   {"width": 88, "height": 86, "title": {"text": "SEC22B", "anchor": "middle", "frame": "group", "offset": -3, "fontSize": 15, "fontWeight": "bold", "baseline": "alphabetic", "dx": 52},
    "data": {"name": "bars"}, "transform": [{"filter": "datum.p == 'sec_c'"}],
    "layer": [
     {"mark": {"type": "bar", "size": 18, "color": "#000000", "orient": "vertical"}, "encoding": {"x": {"field": "i", "type": "quantitative", "scale": {"domain": [-0.5, 1.5], "nice": false, "zero": false, "padding": 0}, "axis": {"values": [0, 1], "labelExpr": "datum.value == 0 ? 'N' : 'H'", "ticks": false, "title": null, "labelFontSize": 13, "labelPadding": 5}}, "y": {"field": "v", "type": "quantitative", "scale": {"domain": [0, 15], "nice": false, "padding": 0}, "axis": {"values": [0, 5, 10, 15], "title": ["% input", "(H3K9me3)"], "titleLineHeight": 13}}}},
     {"mark": {"type": "rule", "color": "#444444", "strokeWidth": 1.2}, "encoding": {"x": {"field": "i", "type": "quantitative"}, "y": {"field": "v", "type": "quantitative"}, "y2": {"field": "hi"}}},
     {"mark": {"type": "tick", "orient": "horizontal", "size": 18, "thickness": 1.5, "color": "#444444"}, "encoding": {"x": {"field": "i", "type": "quantitative"}, "y": {"field": "hi", "type": "quantitative"}}},
     {"mark": {"type": "rule", "color": "#808080", "strokeWidth": 1}, "encoding": {"x": {"field": "i", "type": "quantitative"}, "y": {"field": "lo", "type": "quantitative"}, "y2": {"field": "top"}}},
     {"transform": [{"filter": "datum.i == 0"}], "mark": {"type": "rule", "color": "#808080", "strokeWidth": 1}, "encoding": {"x": {"datum": 0, "type": "quantitative"}, "x2": {"datum": 1}, "y": {"field": "top", "type": "quantitative"}}},
     {"transform": [{"filter": "datum.i == 0"}], "mark": {"type": "text", "fontSize": 11, "baseline": "alphabetic", "dy": 2}, "encoding": {"x": {"datum": 0.5, "type": "quantitative"}, "y": {"field": "top", "type": "quantitative"}, "text": {"field": "s"}}},
     {"transform": [{"filter": "datum.i == 0"}], "mark": {"type": "text", "fontSize": 19, "fontWeight": "bold", "baseline": "middle", "align": "center"}, "encoding": {"x": {"datum": -2.48, "type": "quantitative"}, "y": {"datum": 7.5, "type": "quantitative"}, "text": {"value": "G3"}}}
    ]},
   {"width": 88, "height": 86,
    "data": {"name": "bars"}, "transform": [{"filter": "datum.p == 'sec_m'"}],
    "layer": [
     {"mark": {"type": "bar", "size": 18, "color": "#000000", "orient": "vertical"}, "encoding": {"x": {"field": "i", "type": "quantitative", "scale": {"domain": [-0.5, 1.5], "nice": false, "zero": false, "padding": 0}, "axis": {"values": [0, 1], "labelExpr": "datum.value == 0 ? 'N' : 'H'", "ticks": false, "title": null, "labelFontSize": 13, "labelPadding": 5}}, "y": {"field": "v", "type": "quantitative", "scale": {"domain": [0, 1.5], "nice": false, "padding": 0}, "axis": {"values": [0, 0.5, 1, 1.5], "labelExpr": "datum.value == 0 ? '0' : format(datum.value, '.1f')", "title": ["Relative mRNA", "expression"], "titleLineHeight": 13}}}},
     {"mark": {"type": "rule", "color": "#444444", "strokeWidth": 1.2}, "encoding": {"x": {"field": "i", "type": "quantitative"}, "y": {"field": "v", "type": "quantitative"}, "y2": {"field": "hi"}}},
     {"mark": {"type": "tick", "orient": "horizontal", "size": 18, "thickness": 1.5, "color": "#444444"}, "encoding": {"x": {"field": "i", "type": "quantitative"}, "y": {"field": "hi", "type": "quantitative"}}},
     {"mark": {"type": "rule", "color": "#808080", "strokeWidth": 1}, "encoding": {"x": {"field": "i", "type": "quantitative"}, "y": {"field": "lo", "type": "quantitative"}, "y2": {"field": "top"}}},
     {"transform": [{"filter": "datum.i == 0"}], "mark": {"type": "rule", "color": "#808080", "strokeWidth": 1}, "encoding": {"x": {"datum": 0, "type": "quantitative"}, "x2": {"datum": 1}, "y": {"field": "top", "type": "quantitative"}}},
     {"transform": [{"filter": "datum.i == 0"}], "mark": {"type": "text", "fontSize": 11, "baseline": "alphabetic", "dy": 2}, "encoding": {"x": {"datum": 0.5, "type": "quantitative"}, "y": {"field": "top", "type": "quantitative"}, "text": {"field": "s"}}}
    ]},
   {"width": 88, "height": 86, "title": {"text": "BZW2", "anchor": "middle", "frame": "group", "offset": -3, "fontSize": 15, "fontWeight": "bold", "baseline": "alphabetic", "dx": 49},
    "data": {"name": "bars"}, "transform": [{"filter": "datum.p == 'bzw_c'"}],
    "layer": [
     {"mark": {"type": "bar", "size": 18, "color": "#000000", "orient": "vertical"}, "encoding": {"x": {"field": "i", "type": "quantitative", "scale": {"domain": [-0.5, 1.5], "nice": false, "zero": false, "padding": 0}, "axis": {"values": [0, 1], "labelExpr": "datum.value == 0 ? 'N' : 'H'", "ticks": false, "title": null, "labelFontSize": 13, "labelPadding": 5}}, "y": {"field": "v", "type": "quantitative", "scale": {"domain": [0, 8], "nice": false, "padding": 0}, "axis": {"values": [0, 2, 4, 6, 8], "title": ["% input", "(H3K9me3)"], "titleLineHeight": 13}}}},
     {"mark": {"type": "rule", "color": "#444444", "strokeWidth": 1.2}, "encoding": {"x": {"field": "i", "type": "quantitative"}, "y": {"field": "v", "type": "quantitative"}, "y2": {"field": "hi"}}},
     {"mark": {"type": "tick", "orient": "horizontal", "size": 18, "thickness": 1.5, "color": "#444444"}, "encoding": {"x": {"field": "i", "type": "quantitative"}, "y": {"field": "hi", "type": "quantitative"}}},
     {"mark": {"type": "rule", "color": "#808080", "strokeWidth": 1}, "encoding": {"x": {"field": "i", "type": "quantitative"}, "y": {"field": "lo", "type": "quantitative"}, "y2": {"field": "top"}}},
     {"transform": [{"filter": "datum.i == 0"}], "mark": {"type": "rule", "color": "#808080", "strokeWidth": 1}, "encoding": {"x": {"datum": 0, "type": "quantitative"}, "x2": {"datum": 1}, "y": {"field": "top", "type": "quantitative"}}},
     {"transform": [{"filter": "datum.i == 0"}], "mark": {"type": "text", "fontSize": 11, "baseline": "alphabetic", "dy": 2}, "encoding": {"x": {"datum": 0.5, "type": "quantitative"}, "y": {"field": "top", "type": "quantitative"}, "text": {"field": "s"}}}
    ]},
   {"width": 88, "height": 86,
    "data": {"name": "bars"}, "transform": [{"filter": "datum.p == 'bzw_m'"}],
    "layer": [
     {"mark": {"type": "bar", "size": 18, "color": "#000000", "orient": "vertical"}, "encoding": {"x": {"field": "i", "type": "quantitative", "scale": {"domain": [-0.5, 1.5], "nice": false, "zero": false, "padding": 0}, "axis": {"values": [0, 1], "labelExpr": "datum.value == 0 ? 'N' : 'H'", "ticks": false, "title": null, "labelFontSize": 13, "labelPadding": 5}}, "y": {"field": "v", "type": "quantitative", "scale": {"domain": [0, 1.5], "nice": false, "padding": 0}, "axis": {"values": [0, 0.5, 1, 1.5], "labelExpr": "datum.value == 0 ? '0' : format(datum.value, '.1f')", "title": ["Relative mRNA", "expression"], "titleLineHeight": 13}}}},
     {"mark": {"type": "rule", "color": "#444444", "strokeWidth": 1.2}, "encoding": {"x": {"field": "i", "type": "quantitative"}, "y": {"field": "v", "type": "quantitative"}, "y2": {"field": "hi"}}},
     {"mark": {"type": "tick", "orient": "horizontal", "size": 18, "thickness": 1.5, "color": "#444444"}, "encoding": {"x": {"field": "i", "type": "quantitative"}, "y": {"field": "hi", "type": "quantitative"}}},
     {"mark": {"type": "rule", "color": "#808080", "strokeWidth": 1}, "encoding": {"x": {"field": "i", "type": "quantitative"}, "y": {"field": "lo", "type": "quantitative"}, "y2": {"field": "top"}}},
     {"transform": [{"filter": "datum.i == 0"}], "mark": {"type": "rule", "color": "#808080", "strokeWidth": 1}, "encoding": {"x": {"datum": 0, "type": "quantitative"}, "x2": {"datum": 1}, "y": {"field": "top", "type": "quantitative"}}},
     {"transform": [{"filter": "datum.i == 0"}], "mark": {"type": "text", "fontSize": 11, "baseline": "alphabetic", "dy": 2}, "encoding": {"x": {"datum": 0.5, "type": "quantitative"}, "y": {"field": "top", "type": "quantitative"}, "text": {"field": "s"}}}
    ]},
   {"width": 88, "height": 86, "title": {"text": "CC2D2A", "anchor": "middle", "frame": "group", "offset": -3, "fontSize": 15, "fontWeight": "bold", "baseline": "alphabetic", "dx": 52},
    "data": {"name": "bars"}, "transform": [{"filter": "datum.p == 'cc_c'"}],
    "layer": [
     {"mark": {"type": "bar", "size": 18, "color": "#000000", "orient": "vertical"}, "encoding": {"x": {"field": "i", "type": "quantitative", "scale": {"domain": [-0.5, 1.5], "nice": false, "zero": false, "padding": 0}, "axis": {"values": [0, 1], "labelExpr": "datum.value == 0 ? 'N' : 'H'", "ticks": false, "title": null, "labelFontSize": 13, "labelPadding": 5}}, "y": {"field": "v", "type": "quantitative", "scale": {"domain": [0, 20], "nice": false, "padding": 0}, "axis": {"values": [0, 5, 10, 15, 20], "title": ["% input", "(H3K9me3)"], "titleLineHeight": 13}}}},
     {"mark": {"type": "rule", "color": "#444444", "strokeWidth": 1.2}, "encoding": {"x": {"field": "i", "type": "quantitative"}, "y": {"field": "v", "type": "quantitative"}, "y2": {"field": "hi"}}},
     {"mark": {"type": "tick", "orient": "horizontal", "size": 18, "thickness": 1.5, "color": "#444444"}, "encoding": {"x": {"field": "i", "type": "quantitative"}, "y": {"field": "hi", "type": "quantitative"}}},
     {"mark": {"type": "rule", "color": "#808080", "strokeWidth": 1}, "encoding": {"x": {"field": "i", "type": "quantitative"}, "y": {"field": "lo", "type": "quantitative"}, "y2": {"field": "top"}}},
     {"transform": [{"filter": "datum.i == 0"}], "mark": {"type": "rule", "color": "#808080", "strokeWidth": 1}, "encoding": {"x": {"datum": 0, "type": "quantitative"}, "x2": {"datum": 1}, "y": {"field": "top", "type": "quantitative"}}},
     {"transform": [{"filter": "datum.i == 0"}], "mark": {"type": "text", "fontSize": 11, "baseline": "alphabetic", "dy": 2}, "encoding": {"x": {"datum": 0.5, "type": "quantitative"}, "y": {"field": "top", "type": "quantitative"}, "text": {"field": "s"}}},
     {"transform": [{"filter": "datum.i == 0"}], "mark": {"type": "text", "fontSize": 19, "fontWeight": "bold", "baseline": "middle", "align": "center"}, "encoding": {"x": {"datum": -2.48, "type": "quantitative"}, "y": {"datum": 10, "type": "quantitative"}, "text": {"value": "G4"}}}
    ]},
   {"width": 88, "height": 86,
    "data": {"name": "bars"}, "transform": [{"filter": "datum.p == 'cc_m'"}],
    "layer": [
     {"mark": {"type": "bar", "size": 18, "color": "#000000", "orient": "vertical"}, "encoding": {"x": {"field": "i", "type": "quantitative", "scale": {"domain": [-0.5, 1.5], "nice": false, "zero": false, "padding": 0}, "axis": {"values": [0, 1], "labelExpr": "datum.value == 0 ? 'N' : 'H'", "ticks": false, "title": null, "labelFontSize": 13, "labelPadding": 5}}, "y": {"field": "v", "type": "quantitative", "scale": {"domain": [0, 1.5], "nice": false, "padding": 0}, "axis": {"values": [0, 0.5, 1, 1.5], "labelExpr": "datum.value == 0 ? '0' : format(datum.value, '.1f')", "title": ["Relative mRNA", "expression"], "titleLineHeight": 13}}}},
     {"mark": {"type": "rule", "color": "#444444", "strokeWidth": 1.2}, "encoding": {"x": {"field": "i", "type": "quantitative"}, "y": {"field": "v", "type": "quantitative"}, "y2": {"field": "hi"}}},
     {"mark": {"type": "tick", "orient": "horizontal", "size": 18, "thickness": 1.5, "color": "#444444"}, "encoding": {"x": {"field": "i", "type": "quantitative"}, "y": {"field": "hi", "type": "quantitative"}}},
     {"mark": {"type": "rule", "color": "#808080", "strokeWidth": 1}, "encoding": {"x": {"field": "i", "type": "quantitative"}, "y": {"field": "lo", "type": "quantitative"}, "y2": {"field": "top"}}},
     {"transform": [{"filter": "datum.i == 0"}], "mark": {"type": "rule", "color": "#808080", "strokeWidth": 1}, "encoding": {"x": {"datum": 0, "type": "quantitative"}, "x2": {"datum": 1}, "y": {"field": "top", "type": "quantitative"}}},
     {"transform": [{"filter": "datum.i == 0"}], "mark": {"type": "text", "fontSize": 11, "baseline": "alphabetic", "dy": 2}, "encoding": {"x": {"datum": 0.5, "type": "quantitative"}, "y": {"field": "top", "type": "quantitative"}, "text": {"field": "s"}}}
    ]},
   {"width": 88, "height": 86, "title": {"text": "HSD17B4", "anchor": "middle", "frame": "group", "offset": -3, "fontSize": 15, "fontWeight": "bold", "baseline": "alphabetic", "dx": 49},
    "data": {"name": "bars"}, "transform": [{"filter": "datum.p == 'hsd_c'"}],
    "layer": [
     {"mark": {"type": "bar", "size": 18, "color": "#000000", "orient": "vertical"}, "encoding": {"x": {"field": "i", "type": "quantitative", "scale": {"domain": [-0.5, 1.5], "nice": false, "zero": false, "padding": 0}, "axis": {"values": [0, 1], "labelExpr": "datum.value == 0 ? 'N' : 'H'", "ticks": false, "title": null, "labelFontSize": 13, "labelPadding": 5}}, "y": {"field": "v", "type": "quantitative", "scale": {"domain": [0, 15], "nice": false, "padding": 0}, "axis": {"values": [0, 5, 10, 15], "title": ["% input", "(H3K9me3)"], "titleLineHeight": 13}}}},
     {"mark": {"type": "rule", "color": "#444444", "strokeWidth": 1.2}, "encoding": {"x": {"field": "i", "type": "quantitative"}, "y": {"field": "v", "type": "quantitative"}, "y2": {"field": "hi"}}},
     {"mark": {"type": "tick", "orient": "horizontal", "size": 18, "thickness": 1.5, "color": "#444444"}, "encoding": {"x": {"field": "i", "type": "quantitative"}, "y": {"field": "hi", "type": "quantitative"}}},
     {"mark": {"type": "rule", "color": "#808080", "strokeWidth": 1}, "encoding": {"x": {"field": "i", "type": "quantitative"}, "y": {"field": "lo", "type": "quantitative"}, "y2": {"field": "top"}}},
     {"transform": [{"filter": "datum.i == 0"}], "mark": {"type": "rule", "color": "#808080", "strokeWidth": 1}, "encoding": {"x": {"datum": 0, "type": "quantitative"}, "x2": {"datum": 1}, "y": {"field": "top", "type": "quantitative"}}},
     {"transform": [{"filter": "datum.i == 0"}], "mark": {"type": "text", "fontSize": 11, "baseline": "alphabetic", "dy": 2}, "encoding": {"x": {"datum": 0.5, "type": "quantitative"}, "y": {"field": "top", "type": "quantitative"}, "text": {"field": "s"}}}
    ]},
   {"width": 88, "height": 86,
    "data": {"name": "bars"}, "transform": [{"filter": "datum.p == 'hsd_m'"}],
    "layer": [
     {"mark": {"type": "bar", "size": 18, "color": "#000000", "orient": "vertical"}, "encoding": {"x": {"field": "i", "type": "quantitative", "scale": {"domain": [-0.5, 1.5], "nice": false, "zero": false, "padding": 0}, "axis": {"values": [0, 1], "labelExpr": "datum.value == 0 ? 'N' : 'H'", "ticks": false, "title": null, "labelFontSize": 13, "labelPadding": 5}}, "y": {"field": "v", "type": "quantitative", "scale": {"domain": [0, 1.5], "nice": false, "padding": 0}, "axis": {"values": [0, 0.5, 1, 1.5], "labelExpr": "datum.value == 0 ? '0' : format(datum.value, '.1f')", "title": ["Relative mRNA", "expression"], "titleLineHeight": 13}}}},
     {"mark": {"type": "rule", "color": "#444444", "strokeWidth": 1.2}, "encoding": {"x": {"field": "i", "type": "quantitative"}, "y": {"field": "v", "type": "quantitative"}, "y2": {"field": "hi"}}},
     {"mark": {"type": "tick", "orient": "horizontal", "size": 18, "thickness": 1.5, "color": "#444444"}, "encoding": {"x": {"field": "i", "type": "quantitative"}, "y": {"field": "hi", "type": "quantitative"}}},
     {"mark": {"type": "rule", "color": "#808080", "strokeWidth": 1}, "encoding": {"x": {"field": "i", "type": "quantitative"}, "y": {"field": "lo", "type": "quantitative"}, "y2": {"field": "top"}}},
     {"transform": [{"filter": "datum.i == 0"}], "mark": {"type": "rule", "color": "#808080", "strokeWidth": 1}, "encoding": {"x": {"datum": 0, "type": "quantitative"}, "x2": {"datum": 1}, "y": {"field": "top", "type": "quantitative"}}},
     {"transform": [{"filter": "datum.i == 0"}], "mark": {"type": "text", "fontSize": 11, "baseline": "alphabetic", "dy": 2}, "encoding": {"x": {"datum": 0.5, "type": "quantitative"}, "y": {"field": "top", "type": "quantitative"}, "text": {"field": "s"}}}
    ]}
  ],
  "columns": 4,
  "align": "each",
  "bounds": "flush",
  "spacing": {"row": 68, "column": 67}
 }
],
"columns": 1,
"align": "none",
"spacing": 18
}
